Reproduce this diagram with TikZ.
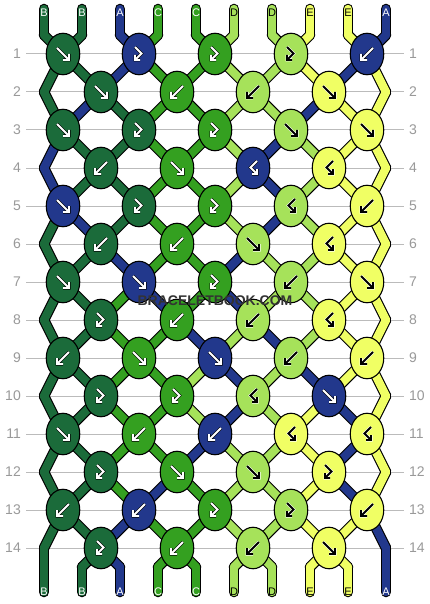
\documentclass[tikz,border=0pt]{standalone}
\usepackage{fontspec}
\setmainfont{Liberation Sans}
\usetikzlibrary{shapes.geometric}
\definecolor{cB}{HTML}{1B6B3A}
\definecolor{cA}{HTML}{22388C}
\definecolor{cC}{HTML}{34A020}
\definecolor{cD}{HTML}{A6E25A}
\definecolor{cE}{HTML}{F0FF64}
\definecolor{rowgray}{HTML}{BBBBBB}
\definecolor{numgray}{HTML}{999999}
\definecolor{wmgray}{HTML}{333333}
\def\arrB{white}\def\arrA{white}\def\arrC{white}\def\arrD{black}\def\arrE{black}
\def\haloB{black}\def\haloA{black}\def\haloC{black}\def\haloD{white}\def\haloE{white}
\newcommand\mykrow[2]{\expandafter\def\csname krow#1\endcsname{#2}}
\newcommand\myseg[2]{\expandafter\def\csname seg#1\endcsname{#2}}
\mykrow{1}{B/f,A/fb,C/fb,D/fb,A/b}
\mykrow{2}{B/f,C/b,D/b,E/f}
\mykrow{3}{B/f,B/fb,C/fb,D/f,E/f}
\mykrow{4}{B/b,C/f,A/bf,E/bf}
\mykrow{5}{A/f,B/fb,C/fb,D/bf,E/b}
\mykrow{6}{B/b,C/b,D/f,E/bf}
\mykrow{7}{B/f,A/f,C/fb,D/b,E/f}
\mykrow{8}{B/fb,C/b,D/b,E/bf}
\mykrow{9}{B/b,C/f,A/f,D/b,E/b}
\mykrow{10}{B/fb,C/fb,D/bf,A/f}
\mykrow{11}{B/f,C/b,A/b,E/bf,E/bf}
\mykrow{12}{B/fb,C/f,D/f,E/fb}
\mykrow{13}{B/b,A/b,C/fb,D/fb,E/b}
\mykrow{14}{B/fb,C/b,D/b,E/f}
\myseg{0}{B,B,A,C,C,D,D,E,E,A}
\myseg{1}{B,B,A,C,C,D,D,E,E,A}
\myseg{2}{B,B,A,C,C,D,D,E,A,E}
\myseg{3}{B,A,B,C,C,D,D,A,E,E}
\myseg{4}{A,B,B,C,C,D,A,D,E,E}
\myseg{5}{A,B,B,C,C,D,A,D,E,E}
\myseg{6}{B,A,B,C,C,D,A,D,E,E}
\myseg{7}{B,B,A,C,C,A,D,D,E,E}
\myseg{8}{B,B,C,A,C,A,D,D,E,E}
\myseg{9}{B,B,C,C,A,D,A,D,E,E}
\myseg{10}{B,B,C,C,D,A,D,A,E,E}
\myseg{11}{B,B,C,C,D,A,D,E,A,E}
\myseg{12}{B,B,C,C,A,D,D,E,A,E}
\myseg{13}{B,B,C,A,C,D,D,E,A,E}
\myseg{14}{B,B,A,C,C,D,D,E,E,A}
\myseg{15}{B,B,A,C,C,D,D,E,E,A}
\myseg{16}{B,B,A,C,C,D,D,E,E,A}
\newcommand\glyphf{\draw[gh] (-6,-6) -- (6,6) (0,6) -- (6,6) -- (6,0);
  \draw[gm] (-6,-6) -- (6,6) (0,6) -- (6,6) -- (6,0);}
\newcommand\glyphb{\draw[gh] (6,-6) -- (-6,6) (0,6) -- (-6,6) -- (-6,0);
  \draw[gm] (6,-6) -- (-6,6) (0,6) -- (-6,6) -- (-6,0);}
\newcommand\glyphfb{\draw[gh] (-4,-7) -- (2.5,-0.5) -- (-4,6) (1,6) -- (-4,6) -- (-4,1);
  \draw[gm] (-4,-7) -- (2.5,-0.5) -- (-4,6) (1,6) -- (-4,6) -- (-4,1);}
\newcommand\glyphbf{\draw[gh] (4,-7) -- (-2.5,-0.5) -- (4,6) (-1,6) -- (4,6) -- (4,1);
  \draw[gm] (4,-7) -- (-2.5,-0.5) -- (4,6) (-1,6) -- (4,6) -- (4,1);}
\begin{document}
\begin{tikzpicture}[x=1pt,y=-1pt,
  strandout/.style={line width=10.6pt, draw=black, line cap=round, line join=round},
  strandin/.style={line width=8.4pt, line cap=round, line join=round},
  knot/.style={ellipse, draw=black, line width=1.1pt, minimum width=33.5pt, minimum height=41.5pt, inner sep=0pt},
  gm/.style={line width=1.9pt, draw=\gmcol, line join=miter, line cap=butt},
  gh/.style={line width=3.0pt, draw=\ghcol, line join=miter, line cap=butt},
  rownum/.style={inner sep=0pt, text=numgray, font=\fontsize{14}{14}\selectfont},
  rowline/.style={draw=rowgray, line width=1pt},
  strlabel/.style={inner sep=0pt, font=\fontsize{11}{11}\selectfont},
  wmtext/.style={inner sep=0pt, font=\bfseries\fontsize{14}{14}\selectfont}]
\fill[white] (0,0) rectangle (430,604);
\useasboundingbox (0,0) rectangle (430,604);
% row lines and numbers
\foreach \rr in {1,...,14} {
  \pgfmathsetmacro\yy{54+38*(\rr-1)}
  \node[rownum, anchor=east] (nl-\rr) at (21,\yy) {\rr};
  \node[rownum, anchor=west] (nr-\rr) at (409,\yy) {\rr};
  \draw[rowline] ([xshift=5pt]nl-\rr.east) -- ([xshift=-5pt]nr-\rr.west);
}
% coordinates along the strings
\foreach \p in {0,...,9} {
  \pgfmathsetmacro\xp{44+38*\p}
  \coordinate (s-0-\p) at (\xp,9);
  \coordinate (s-1-\p) at (\xp,35);
  \coordinate (s-16-\p) at (\xp,567);
  \coordinate (s-17-\p) at (\xp,592);
  \foreach \rr in {1,...,14} {
    \pgfmathtruncatemacro\rowR{\rr+1}
    \pgfmathsetmacro\yy{54+38*(\rr-1)}
    \ifodd\rr\relax
      \pgfmathsetmacro\xx{63+76*floor(\p/2)}
    \else
      \pgfmathsetmacro\xx{\p==0 ? 44 : (\p==9 ? 386 : 101+76*floor((\p-1)/2))}
    \fi
    \coordinate (s-\rowR-\p) at (\xx,\yy);
  }
}
% strands: outlines
\foreach \rowR in {0,...,16} {
  \pgfmathtruncatemacro\rowN{\rowR+1}
  \expandafter\let\expandafter\seglist\csname seg\rowR\endcsname
  \foreach \col [count=\p from 0] in \seglist {
    \draw[strandout] (s-\rowR-\p) -- (s-\rowN-\p);
  }
}
% strands: colours
\foreach \rowR in {0,...,16} {
  \pgfmathtruncatemacro\rowN{\rowR+1}
  \expandafter\let\expandafter\seglist\csname seg\rowR\endcsname
  \foreach \col [count=\p from 0] in \seglist {
    \draw[strandin, draw=c\col] (s-\rowR-\p) -- (s-\rowN-\p);
  }
}
% string letters
\foreach \col [count=\p from 0] in {B,B,A,C,C,D,D,E,E,A} {
  \pgfmathsetmacro\xp{44+38*\p}
  \edef\lcol{\csname arr\col\endcsname}
  \node[strlabel, text=\lcol] (tl-\p) at (\xp,12.5) {\col};
  \node[strlabel, text=\lcol] (bl-\p) at (\xp,591.5) {\col};
}
% knots
\foreach \rr in {1,...,14} {
  \pgfmathsetmacro\yy{54+38*(\rr-1)}
  \ifodd\rr\relax \def\xo{63}\else\def\xo{101}\fi
  \expandafter\let\expandafter\klist\csname krow\rr\endcsname
  \foreach \col/\ty [count=\kc from 0] in \klist {
    \pgfmathsetmacro\xx{\xo+76*\kc}
    \node[knot, fill=c\col] (k-\rr-\kc) at (\xx,\yy) {};
    \edef\gmcol{\csname arr\col\endcsname}
    \edef\ghcol{\csname halo\col\endcsname}
    \begin{scope}[shift={(k-\rr-\kc)}]
      \csname glyph\ty\endcsname
    \end{scope}
  }
}
% watermark
\node[wmtext, text=wmgray] (wm) at (215,301) {BRACELETBOOK.COM};
\end{tikzpicture}
\end{document}
